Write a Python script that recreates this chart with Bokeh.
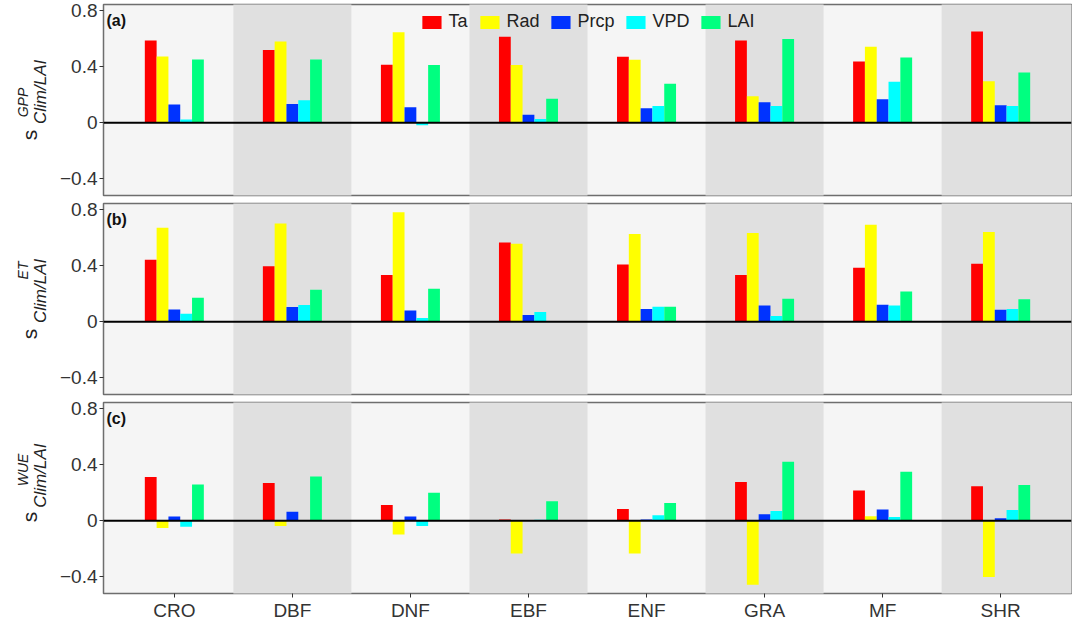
import math
from bokeh.plotting import figure
from bokeh.layouts import column, row
from bokeh.models import (Range1d, FixedTicker, Span, Label, Legend, LegendItem,
                          ColumnDataSource)
from bokeh.core.properties import value
from bokeh.transform import dodge
from bokeh.embed import file_html
from bokeh.resources import INLINE

# ---------------- data ----------------
categories = ["CRO", "DBF", "DNF", "EBF", "ENF", "GRA", "MF", "SHR"]
series = ["Ta", "Rad", "Prcp", "VPD", "LAI"]
colors = ["#FF0000", "#FFFF00", "#0033FF", "#00FFFF", "#00FF80"]

gpp_ta   = [0.586, 0.519, 0.414, 0.613, 0.470, 0.586, 0.437, 0.650]
gpp_rad  = [0.472, 0.579, 0.646, 0.412, 0.449, 0.190, 0.542, 0.296]
gpp_prcp = [0.130, 0.134, 0.111, 0.058, 0.104, 0.146, 0.167, 0.125]
gpp_vpd  = [0.023, 0.160, -0.018, 0.028, 0.120, 0.120, 0.292, 0.120]
gpp_lai  = [0.451, 0.451, 0.412, 0.171, 0.278, 0.597, 0.465, 0.359]

et_ta   = [0.442, 0.395, 0.333, 0.565, 0.409, 0.333, 0.386, 0.414]
et_rad  = [0.670, 0.700, 0.781, 0.556, 0.626, 0.633, 0.691, 0.640]
et_prcp = [0.088, 0.105, 0.081, 0.049, 0.091, 0.116, 0.121, 0.086]
et_vpd  = [0.058, 0.119, 0.028, 0.070, 0.107, 0.042, 0.116, 0.091]
et_lai  = [0.172, 0.228, 0.235, 0.000, 0.107, 0.165, 0.216, 0.160]

wue_ta   = [0.312, 0.270, 0.112, 0.009, 0.084, 0.277, 0.216, 0.247]
wue_rad  = [-0.051, -0.037, -0.098, -0.233, -0.233, -0.456, 0.033, -0.400]
wue_prcp = [0.030, 0.065, 0.030, 0.002, 0.009, 0.047, 0.081, 0.019]
wue_vpd  = [-0.042, 0.003, -0.037, 0.007, 0.040, 0.070, 0.028, 0.077]
wue_lai  = [0.258, 0.316, 0.200, 0.140, 0.126, 0.421, 0.349, 0.256]

panel_tags = ["(a)", "(b)", "(c)"]
panel_sups = ["GPP", "ET", "WUE"]
panel_vals = [
    [gpp_ta, gpp_rad, gpp_prcp, gpp_vpd, gpp_lai],
    [et_ta, et_rad, et_prcp, et_vpd, et_lai],
    [wue_ta, wue_rad, wue_prcp, wue_vpd, wue_lai],
]
y_ticks = [-0.4, 0, 0.4, 0.8]

# ---------------- styling ----------------
FONT = "Liberation Sans"
FW, FH = 968, 191
LW = 56          # width of the y-title strip
LEFT = 40        # left border of the main figure
Y0, Y1 = -0.518, 0.843
LIGHT, DARK = "#F5F5F5", "#E0E0E0"
TXT = "#333333"
TOP = 4

xs = list(range(1, len(categories) + 1))
offsets = [(j - (len(series) - 1) / 2) * 0.1 for j in range(len(series))]
band_x = xs[1::2]
band_left = [x - 0.5 for x in band_x]
band_right = [x + 0.5 if x < xs[-1] else x + 1.5 for x in band_x]

rows = []
for k in range(len(panel_tags)):
    tag, sup, vals = panel_tags[k], panel_sups[k], panel_vals[k]
    last = k == len(panel_tags) - 1
    bottom = 25 if last else 4
    H = TOP + FH + bottom

    p = figure(frame_width=FW, frame_height=FH,
               x_range=Range1d(0.4, 8.6), y_range=Range1d(Y0, Y1),
               output_backend="svg", toolbar_location=None,
               min_border_left=LEFT, min_border_right=1,
               min_border_top=TOP, min_border_bottom=bottom,
               x_axis_location="below" if last else None)
    p.background_fill_color = LIGHT
    p.border_fill_color = "white"
    p.outline_line_color = "#6E6E6E"
    p.outline_line_width = 1.5
    p.xgrid.visible = False
    p.ygrid.visible = False

    p.quad(left=band_left, right=band_right, bottom=[-2] * len(band_x),
           top=[2] * len(band_x), fill_color=DARK, line_color=None)

    data = {"x": xs}
    for s, v in zip(series, vals):
        data[s] = v
    src = ColumnDataSource(data)
    rends = []
    for s, off, c in zip(series, offsets, colors):
        r = p.vbar(x=dodge("x", off, range=p.x_range), top=s, bottom=0,
                   width=0.1, source=src, fill_color=c, line_color=None)
        rends.append(r)

    p.add_layout(Span(location=0, dimension="width", line_color="black",
                      line_width=2))

    p.yaxis.ticker = FixedTicker(ticks=y_ticks)
    p.yaxis.major_label_overrides = {0: "0"}
    p.yaxis.axis_line_color = None
    p.yaxis.major_tick_line_color = TXT
    p.yaxis.major_tick_out = 4
    p.yaxis.major_tick_in = 0
    p.yaxis.minor_tick_line_color = None
    p.yaxis.major_label_text_font = FONT
    p.yaxis.major_label_text_font_size = "19px"
    p.yaxis.major_label_text_color = TXT
    p.yaxis.major_label_standoff = 2

    if last:
        p.xaxis.ticker = FixedTicker(ticks=xs)
        p.xaxis.major_label_overrides = {x: c for x, c in zip(xs, categories)}
        p.xaxis.axis_line_color = None
        p.xaxis.major_tick_line_color = TXT
        p.xaxis.major_tick_out = 4
        p.xaxis.major_tick_in = 0
        p.xaxis.minor_tick_line_color = None
        p.xaxis.major_label_text_font = FONT
        p.xaxis.major_label_text_font_size = "19px"
        p.xaxis.major_label_text_color = TXT
        p.xaxis.major_label_standoff = 2

    p.add_layout(Label(x=3, y=FH - 7, x_units="screen", y_units="screen",
                       text=tag, text_font=FONT, text_font_style="bold",
                       text_font_size="16px", text_color="#111111",
                       text_baseline="top", text_align="left"))

    if k == 0:
        legend = Legend(items=[LegendItem(label=s, renderers=[r])
                               for s, r in zip(series, rends)],
                        orientation="horizontal", location="top_center",
                        background_fill_alpha=0, border_line_alpha=0,
                        glyph_width=24, glyph_height=16,
                        label_text_font=FONT, label_text_font_size="18px",
                        label_text_color="#222222", label_standoff=5,
                        spacing=9, padding=0, margin=7, label_height=16)
        p.add_layout(legend)

    # ---- y title strip: s^{sup}_{Clim/LAI}, rotated ----
    t = figure(width=LW, height=H, x_range=Range1d(0, LW), y_range=Range1d(0, H),
               output_backend="svg", toolbar_location=None,
               min_border=0, x_axis_location=None, y_axis_location=None)
    t.outline_line_color = None
    t.background_fill_color = "white"
    t.border_fill_color = "white"
    t.xgrid.visible = False
    t.ygrid.visible = False
    mid = bottom + FH / 2
    common = dict(angle=math.pi / 2, text_font=value(FONT),
                  text_color="#222222", text_baseline="alphabetic")
    t.text(x=[29], y=[mid - 42], text=["s"], text_align="left",
           text_font_size=value("21px"), **common)
    t.text(x=[40], y=[mid - 25], text=["Clim/LAI"], text_align="left",
           text_font_size=value("17px"), text_font_style="italic", **common)
    if k == 0:
        t.text(x=[22], y=[mid - 18], text=[sup], text_align="left",
               text_font_size=value("14px"), text_font_style="italic", **common)
    else:
        t.text(x=[22], y=[mid + 39], text=[sup], text_align="right",
               text_font_size=value("14px"), text_font_style="italic", **common)

    rows.append(row(t, p, spacing=0))

layout = column(*rows, spacing=0)
open("out.html", "w").write(file_html(layout, INLINE))
